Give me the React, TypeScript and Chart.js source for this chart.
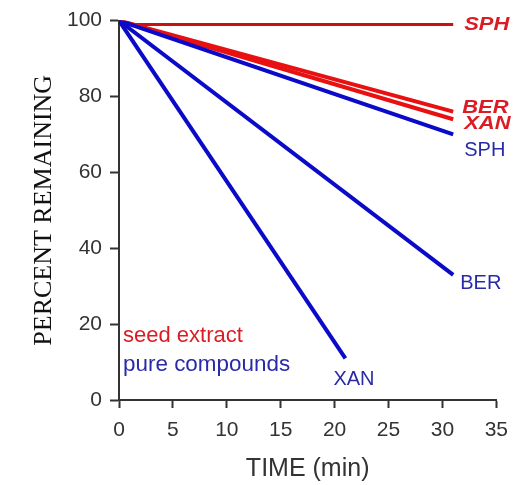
import React, { useEffect, useRef } from "react";
import { Chart, registerables } from "chart.js";

Chart.register(...registerables);

// Percent remaining over time (min)
const seedSPH = [
  { x: 0, y: 99 },
  { x: 31, y: 99 },
];
const seedBER = [
  { x: 0, y: 100 },
  { x: 31, y: 76 },
];
const seedXAN = [
  { x: 0, y: 100 },
  { x: 31, y: 74 },
];
const pureSPH = [
  { x: 0, y: 100 },
  { x: 31, y: 70 },
];
const pureBER = [
  { x: 0, y: 100 },
  { x: 31, y: 33 },
];
const pureXAN = [
  { x: 0, y: 100 },
  { x: 21, y: 11 },
];

const xTicks = [0, 5, 10, 15, 20, 25, 30, 35];
const yTicks = [0, 20, 40, 60, 80, 100];

const RED = "#e81010";
const DARK_RED = "#cc1010";
const BLUE = "#0a0ac8";
const BLUE_TEXT = "#2a2aa8";
const RED_TEXT = "#dc1c24";
const AXIS = "#333333";

const SANS = "'Liberation Sans', Arial, sans-serif";
const SERIF = "'Liberation Serif', 'Times New Roman', serif";

type Label = { text: string; series: number; dx: number; dy: number; seed: boolean };

// End-of-line labels, offset from each series' last point
const endLabels: Label[] = [
  { text: "SPH", series: 5, dx: 11, dy: 6, seed: true },
  { text: "BER", series: 4, dx: 9, dy: 1, seed: true },
  { text: "XAN", series: 3, dx: 11, dy: 10, seed: true },
  { text: "SPH", series: 0, dx: 11, dy: 22, seed: false },
  { text: "BER", series: 1, dx: 7, dy: 14, seed: false },
  { text: "XAN", series: 2, dx: -12, dy: 27, seed: false },
];

function drawText(
  ctx: CanvasRenderingContext2D,
  text: string,
  x: number,
  y: number,
  font: string,
  color: string,
  sx = 1
) {
  ctx.save();
  ctx.font = font;
  ctx.fillStyle = color;
  ctx.textAlign = "left";
  ctx.textBaseline = "alphabetic";
  ctx.translate(x, y);
  ctx.scale(sx, 1);
  ctx.fillText(text, 0, 0);
  ctx.restore();
}

const annotations = {
  id: "annotations",
  afterDatasetsDraw(chart: any) {
    const ctx: CanvasRenderingContext2D = chart.ctx;
    const area = chart.chartArea;
    const xs = chart.scales.x;
    const ys = chart.scales.y;

    endLabels.forEach((l) => {
      const data = chart.data.datasets[l.series].data as { x: number; y: number }[];
      const last = data[data.length - 1];
      const px = xs.getPixelForValue(last.x) + l.dx;
      const py = ys.getPixelForValue(last.y) + l.dy;
      if (l.seed) {
        drawText(ctx, l.text, px, py, `italic bold 18px ${SANS}`, RED_TEXT, 1.22);
      } else {
        drawText(ctx, l.text, px, py, `20px ${SANS}`, BLUE_TEXT);
      }
    });

    drawText(ctx, "seed extract", area.left + 4, area.bottom - 58, `22px ${SANS}`, RED_TEXT);
    drawText(ctx, "pure compounds", area.left + 4, area.bottom - 29, `22px ${SANS}`, BLUE_TEXT, 1.02);

    // axis titles
    ctx.save();
    ctx.fillStyle = AXIS;
    ctx.font = `25px ${SANS}`;
    ctx.textAlign = "center";
    ctx.textBaseline = "alphabetic";
    ctx.fillText("TIME (min)", (area.left + area.right) / 2, 476);
    ctx.restore();

    ctx.save();
    ctx.fillStyle = "#111111";
    ctx.font = `26px ${SERIF}`;
    ctx.textAlign = "center";
    ctx.textBaseline = "middle";
    ctx.translate(44, (area.top + area.bottom) / 2);
    ctx.rotate(-Math.PI / 2);
    ctx.fillText("PERCENT REMAINING", 0, 0);
    ctx.restore();
  },
};

function line(data: { x: number; y: number }[], color: string, width: number) {
  return {
    data,
    borderColor: color,
    backgroundColor: color,
    borderWidth: width,
    showLine: true,
    pointRadius: 0,
    borderCapStyle: "butt" as const,
    fill: false,
  };
}

export default function App() {
  const canvasRef = useRef<HTMLCanvasElement | null>(null);

  useEffect(() => {
    if (!canvasRef.current) return;
    const chart = new Chart(canvasRef.current, {
      type: "scatter",
      data: {
        datasets: [
          line(pureSPH, BLUE, 4),
          line(pureBER, BLUE, 4),
          line(pureXAN, BLUE, 4),
          line(seedXAN, RED, 4),
          line(seedBER, RED, 4),
          line(seedSPH, DARK_RED, 3),
        ],
      },
      options: {
        responsive: false,
        animation: false,
        layout: { padding: { top: 18, right: 19, left: 0, bottom: 0 } },
        plugins: {
          legend: { display: false },
          tooltip: { enabled: false },
        },
        scales: {
          x: {
            type: "linear",
            min: xTicks[0],
            max: xTicks[xTicks.length - 1],
            afterFit: (s: any) => {
              s.height = 85;
            },
            afterBuildTicks: (s: any) => {
              s.ticks = xTicks.map((v) => ({ value: v }));
            },
            ticks: {
              color: AXIS,
              font: { family: SANS, size: 21 },
              padding: 10,
              maxRotation: 0,
            },
            grid: {
              display: true,
              drawOnChartArea: false,
              drawTicks: true,
              tickLength: 8,
              tickWidth: 2,
              tickColor: AXIS,
            },
            border: { display: true, color: AXIS, width: 2 },
          },
          y: {
            type: "linear",
            min: yTicks[0],
            max: yTicks[yTicks.length - 1],
            afterFit: (s: any) => {
              s.width = 119;
            },
            afterBuildTicks: (s: any) => {
              s.ticks = yTicks.map((v) => ({ value: v }));
            },
            ticks: {
              color: AXIS,
              font: { family: SANS, size: 21 },
              padding: 8,
            },
            grid: {
              display: true,
              drawOnChartArea: false,
              drawTicks: true,
              tickLength: 9,
              tickWidth: 2,
              tickColor: AXIS,
            },
            border: { display: true, color: AXIS, width: 2 },
          },
        },
      },
      plugins: [annotations],
    });
    return () => chart.destroy();
  }, []);

  return (
    <div
      style={{
        position: "fixed",
        left: 0,
        top: 0,
        width: 518,
        height: 485,
        background: "#ffffff",
      }}
    >
      <canvas ref={canvasRef} width={518} height={485} style={{ width: 518, height: 485 }} />
    </div>
  );
}
